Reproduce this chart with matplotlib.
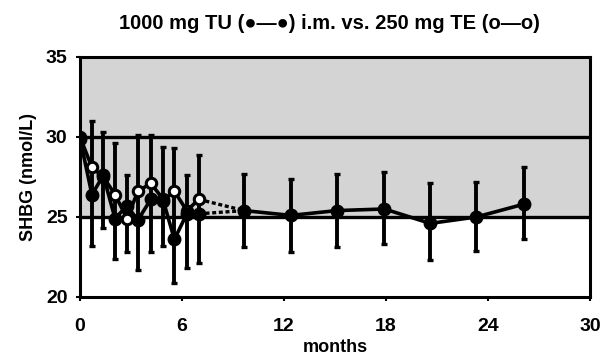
import matplotlib
matplotlib.use("Agg")
import matplotlib.pyplot as plt

plt.rcParams['font.family'] = ['Liberation Sans', 'DejaVu Sans']
plt.rcParams['font.weight'] = 'bold'

# Early phase (months)
early_months = [0, 0.7, 1.37, 2.06, 2.76, 3.4, 4.16, 4.9, 5.55, 6.28, 6.99]
tu_early = [29.9, 26.4, 27.6, 24.9, 25.7, 24.8, 26.1, 26.0, 23.6, 25.2, 25.2]
te_early = [30.0, 28.1, 27.5, 26.4, 24.9, 26.6, 27.1, 26.1, 26.6, 25.4, 26.1]
early_err_hi = [None, 31.0, 30.3, 29.6, 27.6, 30.1, 30.1, 29.4, 29.3, 27.6, 28.9]
early_err_lo = [None, 23.2, 24.3, 22.4, 22.8, 21.7, 22.8, 23.2, 20.9, 21.8, 22.1]

# Long-term phase (TU)
late_months = [9.66, 12.4, 15.1, 17.9, 20.6, 23.3, 26.1]
tu_late = [25.4, 25.1, 25.4, 25.5, 24.6, 25.0, 25.8]
late_err_hi = [27.7, 27.4, 27.7, 27.8, 27.1, 27.2, 28.1]
late_err_lo = [23.1, 22.8, 23.1, 23.3, 22.3, 22.9, 23.6]

xticks = [0, 6, 12, 18, 24, 30]
yticks = [20, 25, 30, 35]

fig = plt.figure(figsize=(6.04, 3.58), dpi=100)
ax = fig.add_axes([0.1325, 0.1704, 0.8445, 0.6704])
ax.set_xlim(0, 30)
ax.set_ylim(20, 35)

# shaded normal range
ax.axhspan(25, 35, color='#d4d4d4', zorder=0)
ax.axhline(30, color='black', lw=2.4, zorder=1)
ax.axhline(25, color='black', lw=2.4, zorder=1)

# error bars
ex, ey, elo, ehi = [], [], [], []
for m, lo, hi in zip(early_months + late_months, early_err_lo + late_err_lo, early_err_hi + late_err_hi):
    if lo is None:
        continue
    ex.append(m)
    ey.append((lo + hi) / 2)
    elo.append((hi - lo) / 2)
    ehi.append((hi - lo) / 2)
ax.errorbar(ex, ey, yerr=[elo, ehi], fmt='none', ecolor='black', elinewidth=2.8,
            capsize=2.2, capthick=2.4, zorder=2)

# dashed connectors
ax.plot([early_months[-1], late_months[0]], [te_early[-1], tu_late[0]], color='black',
        lw=2.4, ls=(0, (1.2, 0.8)), zorder=3)
ax.plot([early_months[-1], late_months[0]], [tu_early[-1], tu_late[0]], color='black',
        lw=2.4, ls=(0, (1.2, 0.8)), zorder=3)

# TE open circles
ax.plot(early_months, te_early, color='black', lw=2.6, marker='o', ms=7.5,
        mfc='white', mec='black', mew=2.2, zorder=4)
# TU filled circles
ax.plot(early_months, tu_early, color='black', lw=2.6, marker='o', ms=9,
        mfc='black', mec='black', zorder=5)
ax.plot(late_months, tu_late, color='black', lw=2.6, marker='o', ms=9,
        mfc='black', mec='black', zorder=5)

ax.set_xticks(xticks)
ax.set_yticks(yticks)
ax.tick_params(direction='out', length=3, width=1.5, labelsize=14)
ax.tick_params(axis='x', pad=12)
ax.tick_params(axis='y', pad=6)
for lab in ax.get_xticklabels() + ax.get_yticklabels():
    lab.set_fontweight('bold')
for s in ax.spines.values():
    s.set_linewidth(2.2)

ax.set_xlabel('months', fontsize=13, fontweight='bold', labelpad=3)
ax.set_ylabel('SHBG (nmol/L)', fontsize=13, fontweight='bold', labelpad=6)

fig.text(0.545, 0.935, '1000 mg TU (\u25cf\u2014\u25cf) i.m. vs. 250 mg TE (o\u2014o)',
         ha='center', va='center', fontsize=14.5, fontweight='bold')

fig.savefig('out.png', dpi=100)
